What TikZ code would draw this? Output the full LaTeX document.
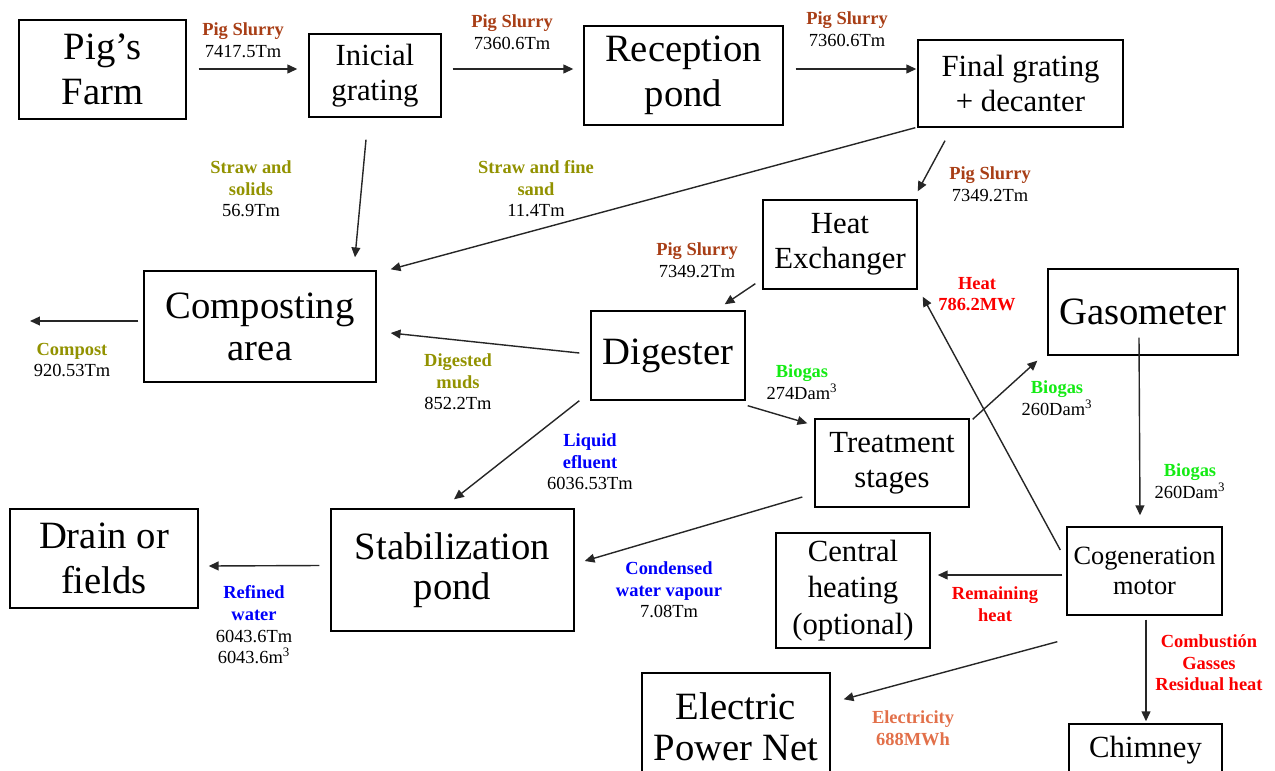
\documentclass[tikz,border=0pt]{standalone}
\usepackage{fontspec}
\setmainfont{Liberation Serif}
\usetikzlibrary{arrows.meta}
\usetikzlibrary{calc}

\definecolor{slurry}{RGB}{168,62,22}
\definecolor{solids}{RGB}{146,146,0}
\definecolor{biogas}{RGB}{20,235,20}
\definecolor{water}{RGB}{0,0,250}
\definecolor{heat}{RGB}{250,0,0}
\definecolor{power}{RGB}{226,112,74}

\newcommand{\flowtxt}[2]{{\bfseries\color{#1}#2}}

\tikzset{
  box/.style={draw, line width=0.8pt, align=center, inner sep=0pt},
  big/.style={font=\fontsize{22}{25.5}\selectfont},
  mid/.style={font=\fontsize{17.5}{20}\selectfont},
  flow/.style={-{Triangle[length=5.6pt,width=5pt]}, line width=0.8pt, draw=black!85},
  lab/.style={align=center, font=\fontsize{10.5}{12.3}\selectfont, inner sep=0pt}
}

\begin{document}
\begin{tikzpicture}[x=0.02cm, y=-0.02cm]

    \useasboundingbox (0,0) rectangle (1275,771);

    % process boxes
    \node[box, big, minimum width=3.34cm, minimum height=1.98cm] (farm) at (102.5,69.5) {Pig’s\\Farm};
    \node[box, mid, minimum width=2.64cm, minimum height=1.66cm] (inicial) at (375,75.5) {Inicial\\grating};
    \node[box, big, minimum width=3.98cm, minimum height=1.98cm] (reception) at (683.5,75.5) {Reception\\pond};
    \node[box, mid, minimum width=4.10cm, minimum height=1.74cm] (final) at (1020.5,83.5) {Final grating\\+ decanter};
    \node[box, mid, minimum width=3.08cm, minimum height=1.78cm] (heatex) at (840,244.5) {Heat\\Exchanger};
    \node[box, big, font=\fontsize{22}{24}\selectfont, minimum width=4.64cm, minimum height=2.22cm] (compost) at (260,326.5) {Composting\\area};
    \node[box, big, minimum width=3.08cm, minimum height=1.78cm] (digester) at (668,355.5) {Digester};
    \node[box, big, minimum width=3.80cm, minimum height=1.72cm] (gasometer) at (1143,312) {Gasometer};
    \node[box, mid, minimum width=3.08cm, minimum height=1.76cm] (treatment) at (892,463) {Treatment\\stages};
    \node[box, big, minimum width=3.76cm, minimum height=1.98cm] (drain) at (104,558.5) {Drain or\\fields};
    \node[box, big, font=\fontsize{22}{23}\selectfont, minimum width=4.86cm, minimum height=2.44cm] (stab) at (452.5,570) {Stabilization\\pond};
    \node[box, mid, font=\fontsize{17.5}{21}\selectfont, minimum width=3.08cm, minimum height=2.30cm] (central) at (853,590.5) {Central\\heating\\(optional)};
    \node[box, font=\fontsize{15}{17}\selectfont, minimum width=3.10cm, minimum height=1.76cm] (cogen) at (1144.5,571) {Cogeneration\\motor};
    \node[box, big, font=\fontsize{22}{23.5}\selectfont, minimum width=3.76cm, minimum height=2.16cm] (electric) at (736,727) {Electric\\Power Net};
    \node[box, mid, minimum width=3.06cm, minimum height=1.04cm] (chimney) at (1145.5,750) {Chimney};

    \coordinate (compostout) at (30,321);

    % flows
    \draw[flow] ($(farm.east)+(12,-0.5)$) -- ($(inicial.west)+(-11,-6.5)$);
    \draw[flow] ($(inicial.east)+(11,-6.5)$) -- ($(reception.west)+(-10,-6.5)$);
    \draw[flow] ($(reception.east)+(12,-6.5)$) -- ($(final.west)+(-1,-14.5)$);
    \draw[flow] ($(inicial.south)+(-9,22)$) -- ($(compost.north)+(95,-13)$);
    \draw[flow] ($(final.south west)+(-2,0)$) -- ($(compost.north east)+(14,-1)$);
    \draw[flow] ($(final.south)+(-75.5,13)$) -- ($(heatex.north east)+(0,-8)$);
    \draw[flow] ($(heatex.south west)+(-7,-6)$) -- ($(digester.north east)+(-21,-6)$);
    \draw[flow] ($(digester.west)+(-11,-2.5)$) -- ($(compost.east)+(14,6.5)$);
    \draw[flow] ($(compost.west)+(-5,-5.5)$) -- (compostout);
    \draw[flow] ($(digester.south west)+(-11,0)$) -- ($(stab.north)+(1.5,-9)$);
    \draw[flow] ($(digester.south east)+(2,5)$) -- ($(treatment.north west)+(-7,5)$);
    \draw[flow] ($(treatment.north east)+(3,1)$) -- ($(gasometer.south west)+(-10,5)$);
    \draw[flow] ($(gasometer.south)+(-4,-18)$) -- ($(cogen.north)+(-4.5,-11)$);
    \draw[flow] ($(cogen.west)+(-6,-21)$) -- ($(heatex.south east)+(5,7)$);
    \draw[flow] ($(treatment.west)+(-12,34)$) -- ($(stab.east)+(10,-9)$);
    \draw[flow] ($(stab.west)+(-11,-4.5)$) -- ($(drain.east)+(10,7.5)$);
    \draw[flow] ($(cogen.west)+(-4,4)$) -- ($(central.east)+(7,-15.5)$);
    \draw[flow] ($(cogen.south west)+(-9,26)$) -- ($(electric.north east)+(13,27)$);
    \draw[flow] ($(cogen.south)+(1.5,4)$) -- ($(chimney.north)+(0.5,-2)$);

    % flow labels
    \node[lab] (lfarm) at (243,40) {\flowtxt{slurry}{Pig Slurry}\\7417.5Tm};
    \node[lab] (linicial) at (512,32) {\flowtxt{slurry}{Pig Slurry}\\7360.6Tm};
    \node[lab] (lreception) at (847,29) {\flowtxt{slurry}{Pig Slurry}\\7360.6Tm};
    \node[lab] (lstraw) at (251,189) {\flowtxt{solids}{Straw and}\\\flowtxt{solids}{solids}\\56.9Tm};
    \node[lab] (lsand) at (536,189) {\flowtxt{solids}{Straw and fine}\\\flowtxt{solids}{sand}\\11.4Tm};
    \node[lab] (lfinal) at (990,184) {\flowtxt{slurry}{Pig Slurry}\\7349.2Tm};
    \node[lab] (lheatex) at (697,260) {\flowtxt{slurry}{Pig Slurry}\\7349.2Tm};
    \node[lab] (lmuds) at (458,382) {\flowtxt{solids}{Digested}\\\flowtxt{solids}{muds}\\852.2Tm};
    \node[lab] (lcompost) at (72,360) {\flowtxt{solids}{Compost}\\920.53Tm};
    \node[lab] (lliquid) at (590,462) {\flowtxt{water}{Liquid}\\\flowtxt{water}{efluent}\\6036.53Tm};
    \node[lab] (lbiogas) at (802,382) {\flowtxt{biogas}{Biogas}\\274Dam\textsuperscript{3}};
    \node[lab] (lgas) at (1057,398) {\flowtxt{biogas}{Biogas}\\260Dam\textsuperscript{3}};
    \node[lab] (lmotor) at (1190,481) {\flowtxt{biogas}{Biogas}\\260Dam\textsuperscript{3}};
    \node[lab] (lheat) at (977,294) {\flowtxt{heat}{Heat}\\\flowtxt{heat}{786.2MW}};
    \node[lab] (lvapour) at (669,590) {\flowtxt{water}{Condensed}\\\flowtxt{water}{water vapour}\\7.08Tm};
    \node[lab] (lrefined) at (254,625) {\flowtxt{water}{Refined}\\\flowtxt{water}{water}\\6043.6Tm\\6043.6m\textsuperscript{3}};
    \node[lab] (lremain) at (995,604) {\flowtxt{heat}{Remaining}\\\flowtxt{heat}{heat}};
    \node[lab] (lpower) at (913,728) {\flowtxt{power}{Electricity}\\\flowtxt{power}{688MWh}};
    \node[lab] (lgasses) at (1209,663) {\flowtxt{heat}{Combustión}\\\flowtxt{heat}{Gasses}\\\flowtxt{heat}{Residual heat}};

\end{tikzpicture}
\end{document}
